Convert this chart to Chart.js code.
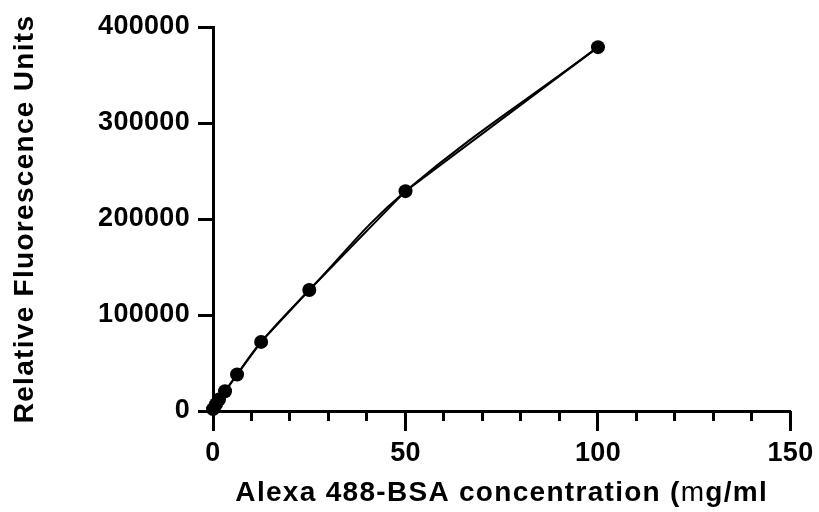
<!DOCTYPE html>
<html>
<head>
<meta charset="utf-8">
<script src="https://cdn.jsdelivr.net/npm/chart.js@4/dist/chart.umd.min.js"></script>
<style>
  html, body { margin: 0; padding: 0; background: #fff; }
  canvas { display: block; }
</style>
</head>
<body>
<canvas id="plot" width="819" height="512"></canvas>
<script>
// Alexa 488-BSA standard curve
const concentration = [0, 0.78125, 1.5625, 3.125, 6.25, 12.5, 25, 50, 100];
const fluorescence = [2000, 7000, 12000, 20500, 38000, 72000, 126000, 229000, 379000];

const xMajorTicks = [0, 50, 100, 150];
const xMinorTicks = [0, 10, 20, 30, 40, 50, 60, 70, 80, 90, 100, 110, 120, 130, 140, 150];
const yTicks = [0, 100000, 200000, 300000, 400000];

const yTitle = 'Relative Fluorescence Units';
const xTitleRuns = [
  { text: 'Alexa 488-BSA concentration (', weight: 'bold' },
  { text: 'm', weight: 'normal' },
  { text: 'g/ml', weight: 'bold' }
];

const FAMILY = "'Liberation Sans', Arial, Helvetica, sans-serif";
const INK = '#000';
const TITLE_SIZE = 28;
const TITLE_TRACKING = '1.3px';

// Linear scale that draws its labels and title with a little extra tracking
const BaseLinear = Chart.LinearScale || Chart.registry.getScale('linear');
class TrackedLinearScale extends BaseLinear {
  drawLabels(chartArea) {
    const ctx = this.ctx;
    ctx.save();
    ctx.letterSpacing = '0.3px';
    super.drawLabels(chartArea);
    ctx.restore();
  }
  drawTitle() {
    const ctx = this.ctx;
    const opts = this.options.title;
    if (!opts.display) return;
    ctx.save();
    ctx.letterSpacing = TITLE_TRACKING;
    if (this.isHorizontal()) {
      // x title: mixed weights within one line
      const widths = xTitleRuns.map(r => {
        ctx.font = `${r.weight} ${TITLE_SIZE}px ${FAMILY}`;
        return ctx.measureText(r.text).width;
      });
      const total = widths.reduce((a, b) => a + b, 0);
      let x = (this.left + this.right) / 2 - total / 2;
      const y = this.bottom - 19;
      ctx.fillStyle = INK;
      ctx.textAlign = 'left';
      ctx.textBaseline = 'middle';
      xTitleRuns.forEach((r, i) => {
        ctx.font = `${r.weight} ${TITLE_SIZE}px ${FAMILY}`;
        ctx.fillText(r.text, x, y);
        x += widths[i];
      });
    } else {
      super.drawTitle();
    }
    ctx.restore();
  }
}
TrackedLinearScale.id = 'trackedLinear';
TrackedLinearScale.defaults = BaseLinear.defaults;
Chart.register(TrackedLinearScale);

const points = concentration.map((c, i) => ({ x: c, y: fluorescence[i] }));

const tickFont = { family: FAMILY, size: 27, weight: 'bold' };

new Chart(document.getElementById('plot'), {
  type: 'line',
  data: {
    datasets: [
      {
        label: 'Measured',
        data: points,
        xAxisID: 'x',
        yAxisID: 'y',
        borderColor: INK,
        backgroundColor: INK,
        borderWidth: 2,
        tension: 0,
        pointRadius: 7,
        pointBorderWidth: 0,
        pointBackgroundColor: INK,
        clip: false
      },
      {
        label: 'Curve',
        data: points,
        xAxisID: 'x',
        yAxisID: 'y',
        borderColor: INK,
        borderWidth: 2,
        tension: 0.4,
        pointRadius: 0,
        clip: false
      }
    ]
  },
  options: {
    responsive: false,
    animation: false,
    events: [],
    layout: { padding: { top: 27, right: 27, left: 0, bottom: 0 } },
    plugins: { legend: { display: false }, tooltip: { enabled: false } },
    scales: {
      x: {
        type: 'trackedLinear',
        position: 'bottom',
        weight: 1,
        min: 0,
        max: 150,
        afterBuildTicks: s => { s.ticks = xMajorTicks.map(v => ({ value: v })); },
        afterFit: s => { s.height = 101; },
        grid: { drawOnChartArea: false, drawTicks: true, tickLength: 20, tickWidth: 3, tickColor: INK },
        border: { display: true, width: 3, color: INK },
        ticks: { color: INK, font: tickFont, padding: 6, maxRotation: 0, autoSkip: false },
        title: { display: true, text: xTitleRuns.map(r => r.text).join(''), color: INK,
                 font: { family: FAMILY, size: TITLE_SIZE, weight: 'bold' } }
      },
      xMinor: {
        type: 'linear',
        axis: 'x',
        position: 'bottom',
        weight: 0,
        min: 0,
        max: 150,
        afterBuildTicks: s => { s.ticks = xMinorTicks.map(v => ({ value: v })); },
        afterFit: s => { s.height = 0; },
        grid: { drawOnChartArea: false, drawTicks: true, tickLength: 10, tickWidth: 3, tickColor: INK },
        border: { display: false },
        ticks: { display: false }
      },
      y: {
        type: 'trackedLinear',
        position: 'left',
        min: 0,
        max: 400000,
        afterBuildTicks: s => { s.ticks = yTicks.map(v => ({ value: v })); },
        afterFit: s => { s.width = 213; },
        grid: { drawOnChartArea: false, drawTicks: true, tickLength: 15, tickWidth: 3, tickColor: INK },
        border: { display: true, width: 3, color: INK },
        ticks: { color: INK, font: tickFont, padding: 8, callback: v => String(v) },
        title: { display: true, text: yTitle, color: INK, padding: { top: 8, bottom: 0 },
                 font: { family: FAMILY, size: TITLE_SIZE, weight: 'bold' } }
      }
    }
  }
});
</script>
</body>
</html>
